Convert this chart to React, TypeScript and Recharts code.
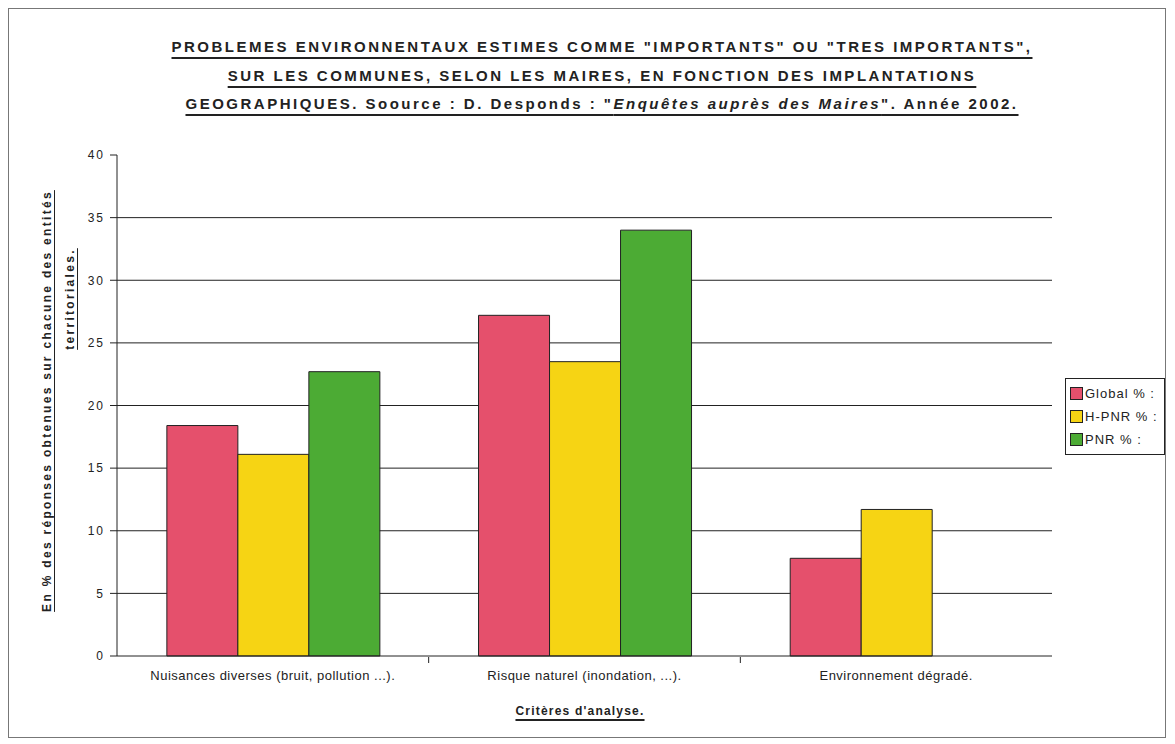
import { Bar, BarChart, CartesianGrid, Legend, XAxis, YAxis } from "recharts";

const CATEGORIES = [
  "Nuisances diverses (bruit, pollution ...).",
  "Risque naturel (inondation, ...).",
  "Environnement dégradé.",
];
const GLOBAL_PCT = [18.4, 27.2, 7.8];
const HORS_PNR_PCT = [16.1, 23.5, 11.7];
const PNR_PCT: (number | null)[] = [22.7, 34.0, null];
const Y_TICKS = [0, 5, 10, 15, 20, 25, 30, 35, 40];
const GRID_VALUES = [5, 10, 15, 20, 25, 30, 35];
const EDGE_TICKS = [1, 2];

const SERIES = [
  { key: "global", name: "Global % :", color: "#e5506c" },
  { key: "horsPnr", name: "H-PNR % :", color: "#f6d414" },
  { key: "pnr", name: "PNR % :", color: "#4cab34" },
];

const data = CATEGORIES.map((label, i) => ({
  label,
  pos: i + 0.5,
  global: GLOBAL_PCT[i],
  horsPnr: HORS_PNR_PCT[i],
  pnr: PNR_PCT[i],
}));

const FONT = '"Liberation Sans", Arial, Helvetica, sans-serif';
const INK = "#222";

function LegendBox(props: any) {
  const items = props.payload ?? [];
  return (
    <div
      style={{
        border: `1px solid ${INK}`,
        background: "#fff",
        padding: "3px 6px 3px 4px",
        fontFamily: FONT,
        fontSize: 13,
        color: INK,
        letterSpacing: 1,
      }}
    >
      {items.map((item: any) => (
        <div
          key={item.value}
          style={{ display: "flex", alignItems: "center", height: 23 }}
        >
          <span
            style={{
              display: "inline-block",
              width: 11,
              height: 11,
              background: item.color,
              border: `1px solid ${INK}`,
              marginRight: 2,
            }}
          />
          {item.value}
        </div>
      ))}
    </div>
  );
}

const titleLine: React.CSSProperties = {
  position: "absolute",
  left: 0,
  width: 1186,
  textAlign: "center",
  fontFamily: FONT,
  fontWeight: "bold",
  fontSize: 15,
  letterSpacing: 2.5,
  color: INK,
  textDecoration: "underline",
  textDecorationThickness: 2,
  textUnderlineOffset: 5,
  whiteSpace: "nowrap",
};

const yLabelLine: React.CSSProperties = {
  position: "absolute",
  width: 600,
  textAlign: "center",
  fontFamily: FONT,
  fontWeight: "bold",
  fontSize: 12,
  letterSpacing: 2.3,
  color: INK,
  lineHeight: "16px",
  transform: "rotate(-90deg)",
  whiteSpace: "nowrap",
};

export default function App() {
  return (
    <div
      style={{
        position: "relative",
        width: 1158,
        height: 730,
        boxSizing: "border-box",
        border: "1px solid #777",
        background: "#fff",
      }}
    >
      <BarChart
        width={1156}
        height={728}
        data={data}
        margin={{ top: 146, right: 113, bottom: 79, left: 60 }}
        barCategoryGap="16%"
        barGap={0}
      >
        <CartesianGrid
          vertical={false}
          horizontalValues={GRID_VALUES}
          stroke={INK}
          strokeWidth={1}
        />
        <XAxis
          dataKey="label"
          height={1}
          axisLine={{ stroke: INK }}
          tickLine={false}
          tickSize={6}
          tickMargin={9}
          tick={{ fontSize: 13, fill: INK, fontFamily: FONT, letterSpacing: 0.5 }}
          interval={0}
        />
        <XAxis
          xAxisId="edge"
          type="number"
          dataKey="pos"
          domain={[0, 3]}
          ticks={EDGE_TICKS}
          height={1}
          axisLine={false}
          tickFormatter={() => ""}
          tickLine={{ stroke: INK }}
          tickSize={6}
        />
        <YAxis
          width={48}
          domain={[0, 40]}
          ticks={Y_TICKS}
          interval={0}
          axisLine={{ stroke: INK }}
          tickLine={{ stroke: INK }}
          tickSize={7}
          tickMargin={5}
          tick={{ fontSize: 12, fill: INK, fontFamily: FONT, letterSpacing: 2 }}
        />
        <Legend
          layout="horizontal"
          align="center"
          verticalAlign="middle"
          content={LegendBox}
          wrapperStyle={{ left: 1056, top: 369, width: "auto", height: "auto" }}
        />
        {SERIES.map((s) => (
          <Bar
            key={s.key}
            dataKey={s.key}
            name={s.name}
            fill={s.color}
            stroke={INK}
            strokeWidth={1}
            isAnimationActive={false}
          />
        ))}
      </BarChart>

      <div style={{ ...titleLine, top: 29 }}>
        PROBLEMES ENVIRONNENTAUX ESTIMES COMME "IMPORTANTS" OU "TRES IMPORTANTS",
      </div>
      <div style={{ ...titleLine, top: 58 }}>
        SUR LES COMMUNES, SELON LES MAIRES, EN FONCTION DES IMPLANTATIONS
      </div>
      <div style={{ ...titleLine, top: 86 }}>
        GEOGRAPHIQUES. Soource : D. Desponds : "<i>Enquêtes auprès des Maires</i>". Année 2002.
      </div>

      <div style={{ ...yLabelLine, left: 38 - 300, top: 392 - 8 }}>
        <span style={{ textDecoration: "underline", textUnderlineOffset: 3 }}>
          En % des réponses obtenues sur chacune des entités
        </span>
      </div>
      <div style={{ ...yLabelLine, left: 61 - 300, top: 290 - 8 }}>
        <span style={{ textDecoration: "underline", textUnderlineOffset: 3 }}>
          territoriales.
        </span>
      </div>

      <div
        style={{
          position: "absolute",
          left: 571 - 150,
          top: 695,
          width: 300,
          textAlign: "center",
          fontFamily: FONT,
          fontWeight: "bold",
          fontSize: 12,
          letterSpacing: 1.2,
          color: INK,
          textDecoration: "underline",
          textDecorationThickness: 2,
          textUnderlineOffset: 4,
        }}
      >
        Critères d'analyse.
      </div>
    </div>
  );
}
